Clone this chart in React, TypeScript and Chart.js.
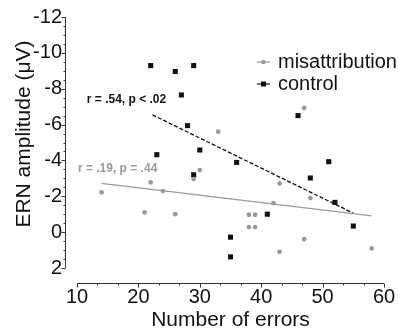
import React, { useEffect, useRef } from "react";
import { Chart, registerables } from "chart.js";

Chart.register(...registerables);

// ---- data ----
const misX = [14, 21, 22, 24, 26, 29, 30, 33, 38, 38, 39, 39, 42, 43, 43, 47, 47, 48, 58];
const misY = [-2.22, -1.1, -2.78, -2.29, -1.0, -2.96, -3.46, -5.6, -0.97, -0.28, -0.97, -0.28, -1.62, -2.72, 1.1, -6.93, 0.39, -1.9, 0.91];
const ctrlX = [22, 23, 26, 27, 28, 29, 29, 30, 35, 35, 36, 41, 46, 48, 51, 52, 55];
const ctrlY = [-9.29, -4.32, -8.96, -7.65, -5.94, -9.29, -3.2, -4.58, 0.28, 1.38, -3.89, -1.0, -6.5, -3.02, -3.93, -1.66, -0.34];
const misFitX = [14, 58];
const misFitY = [-2.72, -0.91];
const ctrlFitX = [22.3, 55];
const ctrlFitY = [-6.54, -1.06];
const xTicks = [10, 20, 30, 40, 50, 60];
const yTicks = [-12, -10, -8, -6, -4, -2, 0, 2];
const seriesNames = ["misattribution", "control"];
const ctrlStatText = "r = .54, p < .02";
const misStatText = "r = .19, p = .44";
const ctrlStatPos = [11.6, -7.37];
const misStatPos = [10.15, -3.52];
const xTitle = "Number of errors";
const yTitle = "ERN amplitude (μV)";

const FONT = '"Liberation Sans", Arial, sans-serif';
const GRAY = "#9a9a9a";
const BLACK = "#111111";

const zip = (xs: number[], ys: number[]) => xs.map((x, i) => ({ x, y: ys[i] }));

const customPlugin = {
  id: "customAxes",
  afterDraw(chart: any) {
    const ctx = chart.ctx;
    const xs = chart.scales.x;
    const ys = chart.scales.y;
    const area = chart.chartArea;
    ctx.save();
    ctx.strokeStyle = "#333";
    ctx.lineWidth = 1;
    // y axis
    const ax = Math.round(area.left - 12) + 0.5;
    ctx.beginPath();
    ctx.moveTo(ax, ys.getPixelForValue(-12));
    ctx.lineTo(ax, ys.getPixelForValue(2));
    for (let v = -12; v <= 2.001; v += 0.5) {
      const p = Math.round(ys.getPixelForValue(v)) + 0.5;
      const major = Math.abs(v - Math.round(v / 2) * 2) < 1e-6;
      ctx.moveTo(ax, p);
      ctx.lineTo(ax - (major ? 4 : 2), p);
    }
    ctx.stroke();
    // x axis
    const ay = Math.round(area.bottom + 15) + 0.5;
    ctx.beginPath();
    ctx.moveTo(xs.getPixelForValue(10), ay);
    ctx.lineTo(xs.getPixelForValue(60), ay);
    for (let i = 0; i <= 15; i++) {
      const v = 10 + (i * 10) / 3;
      const p = Math.round(xs.getPixelForValue(v)) + 0.5;
      const major = i % 3 === 0;
      ctx.moveTo(p, ay);
      ctx.lineTo(p, ay + (major ? 4 : 2));
    }
    ctx.stroke();

    // y title
    ctx.save();
    ctx.translate(24, 134);
    ctx.rotate(-Math.PI / 2);
    ctx.fillStyle = "#111";
    ctx.font = `21px ${FONT}`;
    ctx.textAlign = "center";
    ctx.textBaseline = "middle";
    ctx.fillText(yTitle, 0, 0);
    ctx.restore();

    // stat annotations
    ctx.font = `bold 12px ${FONT}`;
    ctx.textAlign = "left";
    ctx.textBaseline = "middle";
    ctx.fillStyle = BLACK;
    ctx.fillText(ctrlStatText, xs.getPixelForValue(ctrlStatPos[0]), ys.getPixelForValue(ctrlStatPos[1]));
    ctx.fillStyle = GRAY;
    ctx.fillText(misStatText, xs.getPixelForValue(misStatPos[0]), ys.getPixelForValue(misStatPos[1]));

    // legend
    const lx0 = 257, lx1 = 270, tx = 278;
    const rows = [62, 84];
    ctx.font = `20px ${FONT}`;
    rows.forEach((ry, i) => {
      const col = i === 0 ? GRAY : BLACK;
      ctx.strokeStyle = col;
      ctx.lineWidth = 1.2;
      ctx.beginPath();
      ctx.moveTo(lx0, ry);
      ctx.lineTo(lx1, ry);
      ctx.stroke();
      ctx.fillStyle = col;
      const cx = (lx0 + lx1) / 2;
      if (i === 0) {
        ctx.beginPath();
        ctx.arc(cx, ry, 2.3, 0, Math.PI * 2);
        ctx.fill();
      } else {
        ctx.fillRect(cx - 2.5, ry - 2.5, 5, 5);
      }
      ctx.fillStyle = "#111";
      ctx.fillText(seriesNames[i], tx, ry);
    });
    ctx.restore();
  },
};

export default function App() {
  const ref = useRef<HTMLCanvasElement>(null);
  useEffect(() => {
    const chart = new Chart(ref.current as HTMLCanvasElement, {
      type: "scatter",
      data: {
        datasets: [
          {
            label: seriesNames[0],
            data: zip(misX, misY),
            pointStyle: "circle",
            pointRadius: 2.4,
            pointHoverRadius: 2.4,
            backgroundColor: GRAY,
            borderColor: GRAY,
            borderWidth: 0,
          },
          {
            label: seriesNames[1],
            data: zip(ctrlX, ctrlY),
            pointStyle: "rect",
            pointRadius: 3.6,
            pointHoverRadius: 3.6,
            backgroundColor: BLACK,
            borderColor: BLACK,
            borderWidth: 0,
          },
          {
            type: "line",
            label: "misFit",
            data: zip(misFitX, misFitY),
            borderColor: GRAY,
            borderWidth: 1.3,
            pointRadius: 0,
            showLine: true,
          } as any,
          {
            type: "line",
            label: "ctrlFit",
            data: zip(ctrlFitX, ctrlFitY),
            borderColor: BLACK,
            borderWidth: 1.3,
            borderDash: [4, 2],
            pointRadius: 0,
            showLine: true,
          } as any,
        ],
      },
      options: {
        animation: false,
        responsive: false,
        layout: { padding: { top: 17, right: 14, left: 0, bottom: 0 } },
        plugins: { legend: { display: false }, tooltip: { enabled: false } },
        scales: {
          x: {
            type: "linear",
            min: 10,
            max: 60,
            grid: { display: false, drawTicks: false },
            border: { display: false },
            afterBuildTicks: (s: any) => {
              s.ticks = xTicks.map((v) => ({ value: v }));
            },
            afterFit: (s: any) => {
              s.height = 67;
              s.paddingLeft = 0;
              s.paddingRight = 0;
            },
            ticks: {
              padding: 17,
              color: "#111",
              font: { size: 20, family: FONT },
              maxRotation: 0,
              autoSkip: false,
            },
            title: {
              display: true,
              text: xTitle,
              color: "#111",
              font: { size: 21, family: FONT },
              padding: { top: 0, bottom: 2 },
            },
          },
          y: {
            type: "linear",
            min: -12,
            max: 2,
            reverse: true,
            grid: { display: false, drawTicks: false },
            border: { display: false },
            afterBuildTicks: (s: any) => {
              s.ticks = yTicks.map((v) => ({ value: v }));
            },
            afterFit: (s: any) => {
              s.width = 77;
              s.paddingTop = 0;
              s.paddingBottom = 0;
            },
            ticks: {
              padding: 15,
              color: "#111",
              font: { size: 20, family: FONT },
              autoSkip: false,
            },
          },
        },
      },
      plugins: [customPlugin],
    } as any);
    return () => chart.destroy();
  }, []);
  return (
    <div style={{ position: "fixed", left: 0, top: 0, width: 398, height: 335, background: "#fff" }}>
      <canvas ref={ref} width={398} height={335} />
    </div>
  );
}
